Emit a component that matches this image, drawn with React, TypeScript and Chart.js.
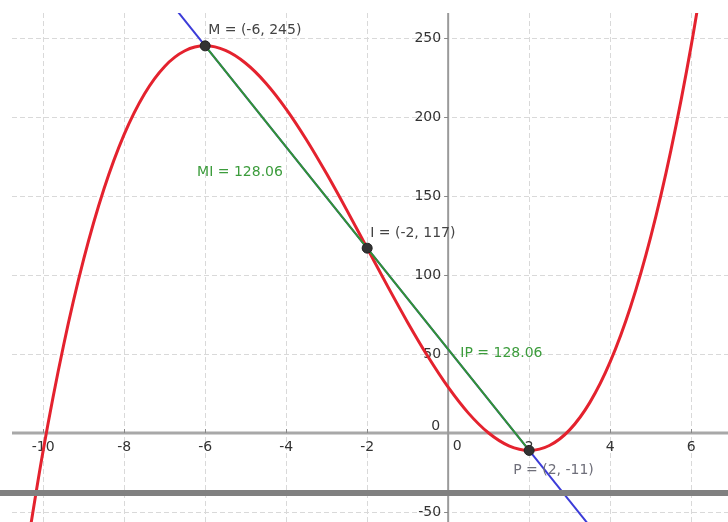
import React, { useEffect, useRef } from "react";
import { Chart, registerables } from "chart.js";

Chart.register(...registerables);

// Cubic curve (x, y)
const curveX = [-10.5, -10, -9.5, -9, -8.5, -8, -7.5, -7, -6.5, -6, -5.5, -5, -4.5, -4, -3.5, -3, -2.5, -2, -1.5, -1, -0.5, 0, 0.5, 1, 1.5, 2, 2.5, 3, 3.5, 4, 4.5, 5, 5.5, 6, 6.5];
const curveY = [-89.1, -11, 55.1, 110, 154.4, 189, 214.6, 232, 241.9, 245, 242.1, 234, 221.4, 205, 185.6, 164, 140.9, 117, 93.1, 70, 48.4, 29, 12.6, 0, -8.1, -11, -7.9, 2, 19.4, 45, 79.6, 124, 178.9, 245, 323.1];

// Blue line through M and P (extended)
const lineX = [-7.5, 4];
const lineY = [293, -75];

// Named points
const pointNames = ["M", "I", "P"];
const pointX = [-6, -2, 2];
const pointY = [245, 117, -11];

// Segment lengths
const segmentNames = ["MI", "IP"];
const segmentLengths = ["128.06", "128.06"];

// Tick labels
const xTicks = [-10, -8, -6, -4, -2, 0, 2, 4, 6];
const yTicks = [-50, 0, 50, 100, 150, 200, 250];

const FONT = '14px "DejaVu Sans", sans-serif';

const overlayPlugin = {
  id: "geoOverlay",
  beforeDatasetsDraw(chart: any) {
    const { ctx, chartArea, scales } = chart;
    const xs = scales.x;
    const ys = scales.y;
    const x0 = xs.getPixelForValue(0);
    const y0 = ys.getPixelForValue(0);
    ctx.save();
    // grid
    ctx.strokeStyle = "#d9d9d9";
    ctx.lineWidth = 1;
    ctx.setLineDash([5, 3]);
    xTicks.forEach((v) => {
      if (v === 0) return;
      const px = Math.round(xs.getPixelForValue(v)) + 0.5;
      ctx.beginPath();
      ctx.moveTo(px, chartArea.top);
      ctx.lineTo(px, chartArea.bottom);
      ctx.stroke();
    });
    yTicks.forEach((v) => {
      if (v === 0) return;
      const py = Math.round(ys.getPixelForValue(v)) + 0.5;
      ctx.beginPath();
      ctx.moveTo(chartArea.left, py);
      ctx.lineTo(chartArea.right, py);
      ctx.stroke();
    });
    ctx.setLineDash([]);
    // axes
    ctx.strokeStyle = "#a8a8a8";
    ctx.lineWidth = 3;
    ctx.beginPath();
    ctx.moveTo(chartArea.left, y0);
    ctx.lineTo(chartArea.right, y0);
    ctx.stroke();
    ctx.strokeStyle = "#9a9a9a";
    ctx.lineWidth = 2;
    ctx.beginPath();
    ctx.moveTo(x0, chartArea.top);
    ctx.lineTo(x0, chartArea.bottom);
    ctx.stroke();
    // tick marks
    ctx.lineWidth = 1;
    ctx.strokeStyle = "#888";
    xTicks.forEach((v) => {
      if (v === 0) return;
      const px = Math.round(xs.getPixelForValue(v)) + 0.5;
      ctx.beginPath();
      ctx.moveTo(px, y0 - 4);
      ctx.lineTo(px, y0);
      ctx.stroke();
    });
    yTicks.forEach((v) => {
      if (v === 0) return;
      const py = Math.round(ys.getPixelForValue(v)) + 0.5;
      ctx.beginPath();
      ctx.moveTo(x0 - 4, py);
      ctx.lineTo(x0, py);
      ctx.stroke();
    });
    // tick labels
    ctx.font = FONT;
    ctx.fillStyle = "#333";
    ctx.textBaseline = "middle";
    ctx.textAlign = "center";
    xTicks.forEach((v) => {
      const px = xs.getPixelForValue(v);
      if (v === 0) {
        ctx.fillText("0", px + 9, y0 + 13);
      } else {
        ctx.fillText(String(v), px, y0 + 14);
      }
    });
    ctx.textAlign = "right";
    yTicks.forEach((v) => {
      const py = ys.getPixelForValue(v);
      if (v === 0) {
        ctx.fillText("0", x0 - 8, py - 7);
      } else {
        ctx.fillText(String(v), x0 - 7, py);
      }
    });
    ctx.restore();
  },
  afterDraw(chart: any) {
    const { ctx, scales } = chart;
    const xs = scales.x;
    const ys = scales.y;
    ctx.save();
    ctx.font = FONT;
    ctx.textBaseline = "middle";
    ctx.textAlign = "left";
    const offsets = [
      [3, -16, "#444"],
      [3, -15, "#444"],
      [-16, 20, "#6f6f7a"],
    ];
    pointNames.forEach((n, i) => {
      const px = xs.getPixelForValue(pointX[i]);
      const py = ys.getPixelForValue(pointY[i]);
      const [dx, dy, col] = offsets[i] as [number, number, string];
      ctx.fillStyle = col;
      ctx.fillText(`${n} = (${pointX[i]}, ${pointY[i]})`, px + dx, py + dy);
    });
    // segment length labels
    const segPos = [
      [-6.2, 165],
      [0.3, 50.6],
    ];
    ctx.fillStyle = "#3c9c3c";
    segmentNames.forEach((n, i) => {
      ctx.fillText(
        `${n} = ${segmentLengths[i]}`,
        xs.getPixelForValue(segPos[i][0]),
        ys.getPixelForValue(segPos[i][1])
      );
    });
    // gray bar across the picture
    ctx.fillStyle = "#808080";
    ctx.fillRect(0, 490, chart.width, 6);
    ctx.restore();
  },
};

export default function App() {
  const ref = useRef<HTMLCanvasElement | null>(null);
  useEffect(() => {
    if (!ref.current) return;
    const chart = new Chart(ref.current, {
      type: "scatter",
      data: {
        datasets: [
          {
            label: "points",
            data: pointX.map((x, i) => ({ x, y: pointY[i] })),
            backgroundColor: "#333",
            borderColor: "#222",
            borderWidth: 1,
            pointRadius: 5,
            showLine: false,
            order: 0,
          } as any,
          {
            label: "segment",
            data: pointX.map((x, i) => ({ x, y: pointY[i] })).filter((_, i) => i !== 1),
            borderColor: "#339333",
            borderWidth: 2,
            pointRadius: 0,
            showLine: true,
            order: 1,
          },
          {
            label: "line",
            data: lineX.map((x, i) => ({ x, y: lineY[i] })),
            borderColor: "#3c3cd8",
            borderWidth: 2,
            pointRadius: 0,
            showLine: true,
            order: 3,
          },
          {
            label: "curve",
            data: curveX.map((x, i) => ({ x, y: curveY[i] })),
            borderColor: "#e4222e",
            borderWidth: 3,
            pointRadius: 0,
            showLine: true,
            cubicInterpolationMode: "monotone",
            order: 2,
          } as any,
        ],
      },
      options: {
        animation: false,
        responsive: false,
        maintainAspectRatio: false,
        layout: { autoPadding: false, padding: { left: 12, top: 13, right: 0, bottom: 0 } },
        plugins: { legend: { display: false }, tooltip: { enabled: false } },
        scales: {
          x: { type: "linear", display: false, min: -10.77, max: 6.91 },
          y: { type: "linear", display: false, min: -56.3, max: 265.8 },
        },
      },
      plugins: [overlayPlugin],
    });
    return () => chart.destroy();
  }, []);
  return (
    <div style={{ position: "absolute", left: 0, top: 0, width: 728, height: 522, overflow: "hidden", background: "#fff" }}>
      <canvas ref={ref} width={728} height={522} style={{ display: "block", width: 728, height: 522 }} />
    </div>
  );
}
